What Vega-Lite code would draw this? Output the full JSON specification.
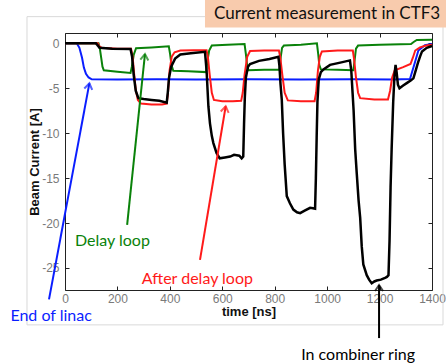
{
  "$schema": "https://vega.github.io/schema/vega-lite/v6.json",
  "width": 367,
  "height": 257,
  "autosize": {"type": "none"},
  "padding": {"left": 65, "top": 33, "right": 14, "bottom": 74},
  "config": {
    "view": {"stroke": "#222222", "strokeWidth": 1},
    "axis": {
      "grid": false,
      "domain": false,
      "tickSize": -4,
      "tickColor": "#222222",
      "labelFont": "Liberation Sans",
      "labelFontSize": 12,
      "labelColor": "#7a7a7a",
      "titleFont": "Liberation Sans",
      "titleFontSize": 13,
      "titleFontWeight": "bold",
      "titleColor": "#111111"
    }
  },
  "datasets": {
    "blue": [
      {"t": 0, "v": 0}, {"t": 45, "v": 0}, {"t": 55, "v": -0.5}, {"t": 65, "v": -1.6}, {"t": 72, "v": -2.7},
      {"t": 80, "v": -3.4}, {"t": 90, "v": -3.8}, {"t": 102, "v": -4.0}, {"t": 200, "v": -4.02}, {"t": 350, "v": -4.0},
      {"t": 500, "v": -4.03}, {"t": 700, "v": -4.0}, {"t": 900, "v": -4.03}, {"t": 1100, "v": -4.0}, {"t": 1250, "v": -4.02},
      {"t": 1316, "v": -3.97}, {"t": 1335, "v": -2.1}, {"t": 1348, "v": -0.8}, {"t": 1373, "v": -0.2}, {"t": 1400, "v": -0.07}
    ],
    "green": [
      {"t": 0, "v": 0}, {"t": 128, "v": 0}, {"t": 133, "v": -0.6}, {"t": 138, "v": -1.6}, {"t": 143, "v": -2.6},
      {"t": 148, "v": -3.0}, {"t": 200, "v": -3.15}, {"t": 250, "v": -3.3}, {"t": 255, "v": -2.6}, {"t": 262, "v": -1.3},
      {"t": 271, "v": -0.55}, {"t": 330, "v": -0.45}, {"t": 396, "v": -0.33}, {"t": 401, "v": -1.2}, {"t": 406, "v": -2.4},
      {"t": 413, "v": -3.05}, {"t": 470, "v": -3.1}, {"t": 538, "v": -3.2}, {"t": 543, "v": -2.0}, {"t": 550, "v": -0.8},
      {"t": 560, "v": -0.25}, {"t": 620, "v": -0.15}, {"t": 685, "v": -0.08}, {"t": 690, "v": -1.2}, {"t": 695, "v": -2.5},
      {"t": 700, "v": -3.0}, {"t": 760, "v": -2.95}, {"t": 818, "v": -2.95}, {"t": 823, "v": -1.5}, {"t": 828, "v": -0.5},
      {"t": 835, "v": -0.25}, {"t": 900, "v": -0.15}, {"t": 961, "v": 0.0}, {"t": 966, "v": -1.2}, {"t": 970, "v": -2.4},
      {"t": 976, "v": -2.9}, {"t": 1040, "v": -2.95}, {"t": 1100, "v": -3.0}, {"t": 1105, "v": -1.8}, {"t": 1110, "v": -0.6},
      {"t": 1118, "v": -0.25}, {"t": 1200, "v": -0.15}, {"t": 1320, "v": -0.07}, {"t": 1330, "v": 0.15}, {"t": 1342, "v": 0.38},
      {"t": 1400, "v": 0.4}
    ],
    "red": [
      {"t": 0, "v": 0}, {"t": 125, "v": 0}, {"t": 130, "v": -0.3}, {"t": 140, "v": -0.5}, {"t": 200, "v": -0.6},
      {"t": 252, "v": -0.6}, {"t": 258, "v": -1.5}, {"t": 264, "v": -3.5}, {"t": 270, "v": -5.2}, {"t": 278, "v": -6.3},
      {"t": 290, "v": -6.7}, {"t": 330, "v": -6.8}, {"t": 370, "v": -6.8}, {"t": 388, "v": -6.7}, {"t": 393, "v": -5.5},
      {"t": 399, "v": -3.0}, {"t": 407, "v": -1.5}, {"t": 418, "v": -1.0}, {"t": 440, "v": -0.8}, {"t": 490, "v": -0.78},
      {"t": 540, "v": -0.78}, {"t": 545, "v": -1.5}, {"t": 552, "v": -3.5}, {"t": 560, "v": -5.5}, {"t": 568, "v": -6.3},
      {"t": 600, "v": -6.45}, {"t": 640, "v": -6.45}, {"t": 672, "v": -6.4}, {"t": 678, "v": -5.5}, {"t": 685, "v": -3.5},
      {"t": 695, "v": -1.5}, {"t": 706, "v": -0.85}, {"t": 760, "v": -0.8}, {"t": 816, "v": -0.8}, {"t": 821, "v": -1.5},
      {"t": 829, "v": -3.5}, {"t": 838, "v": -5.5}, {"t": 850, "v": -6.35}, {"t": 900, "v": -6.45}, {"t": 952, "v": -6.45},
      {"t": 958, "v": -5.5}, {"t": 965, "v": -3.0}, {"t": 972, "v": -1.5}, {"t": 980, "v": -0.9}, {"t": 1040, "v": -0.8},
      {"t": 1098, "v": -0.8}, {"t": 1103, "v": -1.8}, {"t": 1110, "v": -3.8}, {"t": 1118, "v": -5.5}, {"t": 1126, "v": -6.1},
      {"t": 1180, "v": -6.25}, {"t": 1232, "v": -6.25}, {"t": 1240, "v": -5.3}, {"t": 1248, "v": -3.8}, {"t": 1258, "v": -3.0},
      {"t": 1290, "v": -2.65}, {"t": 1318, "v": -2.3}, {"t": 1327, "v": -1.6}, {"t": 1336, "v": -0.8}, {"t": 1354, "v": -0.45},
      {"t": 1378, "v": -0.25}, {"t": 1400, "v": -0.15}
    ],
    "black": [
      {"t": 0, "v": 0}, {"t": 118, "v": 0}, {"t": 124, "v": -0.2}, {"t": 132, "v": -0.5}, {"t": 180, "v": -0.6},
      {"t": 250, "v": -0.62}, {"t": 256, "v": -1.5}, {"t": 262, "v": -3.5}, {"t": 270, "v": -5.3}, {"t": 280, "v": -6.1},
      {"t": 300, "v": -6.2}, {"t": 330, "v": -6.3}, {"t": 360, "v": -6.4}, {"t": 388, "v": -6.6}, {"t": 392, "v": -5.5},
      {"t": 397, "v": -3.8}, {"t": 405, "v": -2.6}, {"t": 420, "v": -1.7}, {"t": 440, "v": -1.25}, {"t": 480, "v": -1.1},
      {"t": 534, "v": -0.95}, {"t": 540, "v": -3.0}, {"t": 547, "v": -7.0}, {"t": 553, "v": -8.9}, {"t": 560, "v": -10.3},
      {"t": 566, "v": -11.1}, {"t": 578, "v": -12.2}, {"t": 590, "v": -12.8}, {"t": 610, "v": -12.7}, {"t": 630, "v": -12.6},
      {"t": 645, "v": -12.4}, {"t": 655, "v": -12.45}, {"t": 665, "v": -12.5}, {"t": 674, "v": -12.8}, {"t": 680, "v": -12.6},
      {"t": 683, "v": -9.0}, {"t": 686, "v": -6.0}, {"t": 690, "v": -3.8}, {"t": 698, "v": -2.6}, {"t": 706, "v": -2.3},
      {"t": 740, "v": -1.95}, {"t": 780, "v": -1.75}, {"t": 814, "v": -1.5}, {"t": 818, "v": -2.5}, {"t": 822, "v": -4.5},
      {"t": 827, "v": -6.3}, {"t": 832, "v": -10.0}, {"t": 838, "v": -13.5}, {"t": 846, "v": -17.0}, {"t": 858, "v": -17.8},
      {"t": 871, "v": -18.5}, {"t": 885, "v": -18.8}, {"t": 897, "v": -18.9}, {"t": 916, "v": -18.6}, {"t": 935, "v": -18.3},
      {"t": 946, "v": -18.35}, {"t": 954, "v": -18.4}, {"t": 957, "v": -15.0}, {"t": 960, "v": -10.5}, {"t": 963, "v": -6.5},
      {"t": 968, "v": -4.0}, {"t": 976, "v": -3.2}, {"t": 986, "v": -2.9}, {"t": 1011, "v": -2.4}, {"t": 1050, "v": -2.15},
      {"t": 1087, "v": -1.9}, {"t": 1092, "v": -3.0}, {"t": 1097, "v": -5.5}, {"t": 1101, "v": -7.5}, {"t": 1107, "v": -11.8},
      {"t": 1113, "v": -14.5}, {"t": 1120, "v": -17.5}, {"t": 1126, "v": -19.4}, {"t": 1132, "v": -22.6}, {"t": 1138, "v": -24.6},
      {"t": 1151, "v": -25.8}, {"t": 1160, "v": -26.3}, {"t": 1170, "v": -26.7}, {"t": 1180, "v": -26.5}, {"t": 1189, "v": -26.4},
      {"t": 1205, "v": -26.3}, {"t": 1221, "v": -26.1}, {"t": 1228, "v": -26.0}, {"t": 1234, "v": -25.8}, {"t": 1238, "v": -22.0},
      {"t": 1242, "v": -16.0}, {"t": 1246, "v": -11.8}, {"t": 1252, "v": -6.5}, {"t": 1257, "v": -3.5}, {"t": 1261, "v": -2.4},
      {"t": 1265, "v": -3.2}, {"t": 1270, "v": -4.6}, {"t": 1276, "v": -5.0}, {"t": 1290, "v": -4.7}, {"t": 1305, "v": -4.4},
      {"t": 1320, "v": -4.1}, {"t": 1329, "v": -3.9}, {"t": 1338, "v": -3.0}, {"t": 1346, "v": -2.2}, {"t": 1354, "v": -1.5},
      {"t": 1362, "v": -0.9}, {"t": 1380, "v": -0.5}, {"t": 1400, "v": -0.3}
    ],
    "frame": [{"t1": -145, "t2": 1442, "v1": 2.97, "v2": -31.33}],
    "titlebox": [{"t1": 534, "t2": 1470, "v1": 4.9, "v2": 1.75, "label": "Current measurement  in CTF3", "t": 1000, "v": 3.31}],
    "notes": [
      {"who": "linac", "label": "End of linac", "t": -53, "v": -30.3},
      {"who": "delay", "label": "Delay loop", "t": 181, "v": -21.97},
      {"who": "after", "label": "After delay loop", "t": 505, "v": -26.2},
      {"who": "ring", "label": "In combiner ring", "t": 1118, "v": -34.67}
    ],
    "arrows": [
      {"who": "linac", "t1": -61, "v1": -28.5, "t2": 93, "v2": -4.45},
      {"who": "delay", "t1": 237, "v1": -20.2, "t2": 305, "v2": -1.2},
      {"who": "after", "t1": 515, "v1": -24.1, "t2": 613, "v2": -7.0},
      {"who": "ring", "t1": 1198, "v1": -32.8, "t2": 1198, "v2": -26.9}
    ]
  },
  "resolve": {"axis": {"x": "independent", "y": "independent"}},
  "layer": [
    {
      "data": {"name": "frame"},
      "mark": {"type": "rect", "fill": null, "stroke": "#d9d9d9", "strokeWidth": 1},
      "encoding": {
        "x": {"field": "t1", "type": "quantitative", "scale": {"domain": [0, 1400], "nice": false, "zero": false}, "axis": null},
        "x2": {"field": "t2"},
        "y": {"field": "v1", "type": "quantitative", "scale": {"domain": [-27.45, 1.15], "nice": false, "zero": false}, "axis": null},
        "y2": {"field": "v2"}
      }
    },
    {
      "data": {"name": "titlebox"},
      "mark": {"type": "rect", "fill": "#f8cbad"},
      "encoding": {
        "x": {"field": "t1", "type": "quantitative", "axis": null},
        "x2": {"field": "t2"},
        "y": {"field": "v1", "type": "quantitative", "axis": null},
        "y2": {"field": "v2"}
      }
    },
    {
      "data": {"name": "titlebox"},
      "mark": {"type": "text", "font": "Lato", "fontSize": 17, "color": "#111111", "align": "center", "baseline": "middle"},
      "encoding": {
        "x": {"field": "t", "type": "quantitative", "axis": null},
        "y": {"field": "v", "type": "quantitative", "axis": null},
        "text": {"field": "label"}
      }
    },
    {
      "data": {"name": "blue"},
      "mark": {"type": "line", "color": "#0a1eff", "strokeWidth": 2},
      "encoding": {
        "x": {"field": "t", "type": "quantitative", "axis": {"orient": "bottom", "values": [0, 200, 400, 600, 800, 1000, 1200, 1400], "format": "d", "title": "time [ns]", "labelFlush": false, "labelPadding": 7, "titlePadding": 1}},
        "y": {"field": "v", "type": "quantitative", "axis": {"orient": "left", "values": [0, -5, -10, -15, -20, -25], "labelExpr": "replace(format(datum.value, 'd'), '\u2212', '-')", "title": "Beam Current [A]", "labelPadding": 10, "titlePadding": 0}}
      }
    },
    {
      "data": {"name": "green"},
      "mark": {"type": "line", "color": "#0a820a", "strokeWidth": 2},
      "encoding": {
        "x": {"field": "t", "type": "quantitative", "axis": {"orient": "top", "values": [0, 200, 400, 600, 800, 1000, 1200, 1400], "labels": false, "title": null}},
        "y": {"field": "v", "type": "quantitative", "axis": {"orient": "right", "values": [0, -5, -10, -15, -20, -25], "labels": false, "title": null}}
      }
    },
    {
      "data": {"name": "red"},
      "mark": {"type": "line", "color": "#ff1a1a", "strokeWidth": 2},
      "encoding": {
        "x": {"field": "t", "type": "quantitative", "axis": null},
        "y": {"field": "v", "type": "quantitative", "axis": null}
      }
    },
    {
      "data": {"name": "black"},
      "mark": {"type": "line", "color": "#000000", "strokeWidth": 2.5},
      "encoding": {
        "x": {"field": "t", "type": "quantitative", "axis": null},
        "y": {"field": "v", "type": "quantitative", "axis": null}
      }
    },
    {
      "data": {"name": "arrows"},
      "mark": {"type": "rule", "strokeWidth": 2},
      "encoding": {
        "x": {"field": "t1", "type": "quantitative", "axis": null},
        "y": {"field": "v1", "type": "quantitative", "axis": null},
        "x2": {"field": "t2"},
        "y2": {"field": "v2"},
        "color": {"field": "who", "type": "nominal", "scale": {"domain": ["linac", "delay", "after", "ring"], "range": ["#0a1eff", "#0a820a", "#ff1a1a", "#000000"]}, "legend": null}
      }
    },
    {
      "data": {"name": "arrows"},
      "transform": [{"filter": "datum.who == 'linac'"}],
      "mark": {"type": "point", "shape": "M-0.67,1L0,0L0.67,1", "filled": false, "size": 144, "strokeWidth": 2, "angle": 10.8, "color": "#0a1eff"},
      "encoding": {
        "x": {"field": "t2", "type": "quantitative", "axis": null},
        "y": {"field": "v2", "type": "quantitative", "axis": null}
      }
    },
    {
      "data": {"name": "arrows"},
      "transform": [{"filter": "datum.who == 'delay'"}],
      "mark": {"type": "point", "shape": "M-0.67,1L0,0L0.67,1", "filled": false, "size": 144, "strokeWidth": 2, "angle": 6, "color": "#0a820a"},
      "encoding": {
        "x": {"field": "t2", "type": "quantitative", "axis": null},
        "y": {"field": "v2", "type": "quantitative", "axis": null}
      }
    },
    {
      "data": {"name": "arrows"},
      "transform": [{"filter": "datum.who == 'after'"}],
      "mark": {"type": "point", "shape": "M-0.67,1L0,0L0.67,1", "filled": false, "size": 144, "strokeWidth": 2, "angle": 9.6, "color": "#ff1a1a"},
      "encoding": {
        "x": {"field": "t2", "type": "quantitative", "axis": null},
        "y": {"field": "v2", "type": "quantitative", "axis": null}
      }
    },
    {
      "data": {"name": "arrows"},
      "transform": [{"filter": "datum.who == 'ring'"}],
      "mark": {"type": "point", "shape": "M-0.67,1L0,0L0.67,1", "filled": false, "size": 144, "strokeWidth": 2, "angle": 0, "color": "#000000"},
      "encoding": {
        "x": {"field": "t2", "type": "quantitative", "axis": null},
        "y": {"field": "v2", "type": "quantitative", "axis": null}
      }
    },
    {
      "data": {"name": "notes"},
      "mark": {"type": "text", "font": "Lato", "fontSize": 16, "align": "center", "baseline": "middle"},
      "encoding": {
        "x": {"field": "t", "type": "quantitative", "axis": null},
        "y": {"field": "v", "type": "quantitative", "axis": null},
        "text": {"field": "label"},
        "color": {"field": "who", "type": "nominal", "scale": {"domain": ["linac", "delay", "after", "ring"], "range": ["#0a1eff", "#2a962a", "#ff1a1a", "#111111"]}, "legend": null}
      }
    }
  ]
}
